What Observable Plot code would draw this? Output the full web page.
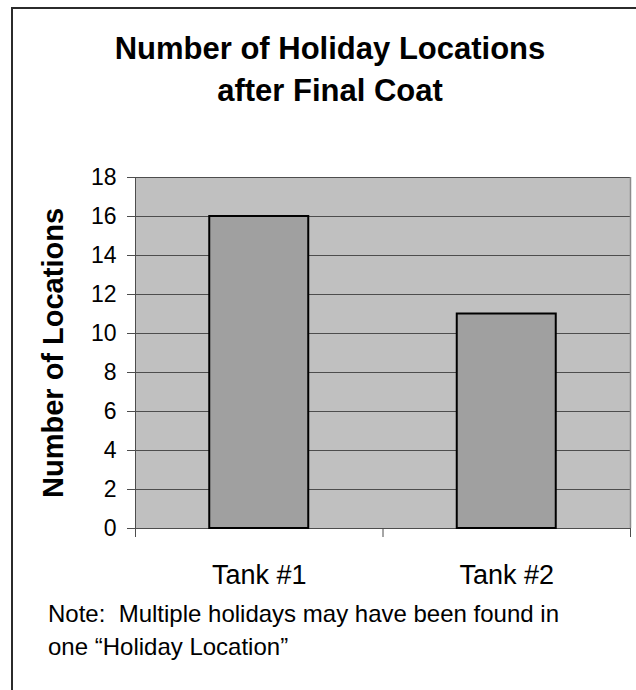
<!DOCTYPE html>
<html>
<head>
<meta charset="utf-8">
<script src="https://cdn.jsdelivr.net/npm/d3@7"></script>
<script src="https://cdn.jsdelivr.net/npm/@observablehq/plot@0.6"></script>
<style>
  html, body { margin: 0; padding: 0; background: #fff; }
  #page {
    position: relative; width: 636px; height: 690px; overflow: hidden;
    background: #fff; font-family: "Liberation Sans", Arial, sans-serif; color: #000;
  }
  #chart { position: absolute; left: 0; top: 0; }
  #box {
    position: absolute; left: 11px; top: 7px; width: 700px; height: 760px;
    border-top: 2px solid #2b2b2b; border-left: 2px solid #2b2b2b;
  }
  #title {
    position: absolute; left: 0; top: 28px; width: 660px; text-align: center;
    font-weight: bold; font-size: 31px; line-height: 42px;
  }
  #note {
    position: absolute; left: 48px; top: 597px; white-space: pre;
    font-size: 24px; line-height: 33px;
  }
</style>
</head>
<body>
<div id="page">
  <div id="chart"></div>
  <div id="title"></div>
  <div id="note"></div>
  <div id="box"></div>
</div>
<script>
// Holiday locations counted in each tank after the final coat
const categories = ["Tank #1", "Tank #2"];
const locations = [16, 11];
const yTicks = [0, 2, 4, 6, 8, 10, 12, 14, 16, 18];
const titleLines = ["Number of Holiday Locations", "after Final Coat"];
const yLabel = "Number of Locations";
const noteLines = ["Note:  Multiple holidays may have been found in", "one \u201cHoliday Location\u201d"];

const rows = categories.map((name, i) => ({name, i, value: locations[i]}));
const gridColor = "#4d4d4d";

document.getElementById("title").innerHTML = titleLines.join("<br>");
document.getElementById("note").textContent = noteLines.join("\n");

const chart = Plot.plot({
  width: 636,
  height: 690,
  marginLeft: 135,
  marginRight: 6,
  marginTop: 177,
  marginBottom: 162,
  style: {background: "transparent", fontFamily: "'Liberation Sans', Arial, sans-serif", color: "#000"},
  x: {type: "linear", domain: [0, categories.length], axis: null},
  y: {domain: [0, 18], axis: null},
  marks: [
    Plot.frame({fill: "#c0c0c0", stroke: null}),
    Plot.ruleY(yTicks, {stroke: gridColor, strokeWidth: 1}),
    Plot.ruleX([categories.length], {stroke: "#8c8c8c", strokeWidth: 1.5}),
    Plot.rect(rows, {
      x1: d => d.i + 0.3,
      x2: d => d.i + 0.7,
      y1: () => 0,
      y2: "value",
      fill: "#a0a0a0",
      stroke: "#000",
      strokeWidth: 2
    }),
    Plot.ruleX([0], {stroke: gridColor, strokeWidth: 1}),
    Plot.axisY({
      ticks: yTicks, tickSize: 8, tickPadding: 11, fontSize: 23,
      stroke: gridColor, fill: "#000", label: null
    }),
    // category boundary ticks
    Plot.axisX({
      ticks: d3.range(categories.length + 1), tickSize: 9,
      tickFormat: () => "", stroke: gridColor, label: null
    }),
    // category names centred under each bar
    Plot.axisX({
      ticks: categories.map((_, i) => i + 0.5), tickSize: 0, tickPadding: 36,
      fontSize: 27, fill: "#000", label: null,
      tickFormat: v => categories[Math.floor(v)]
    }),
    Plot.text([yLabel], {
      text: d => d, frameAnchor: "left", textAnchor: "middle", dx: -82, rotate: -90,
      fontSize: 29, fontWeight: "bold", fill: "#000"
    })
  ]
});
document.getElementById("chart").appendChild(chart);
</script>
</body>
</html>
